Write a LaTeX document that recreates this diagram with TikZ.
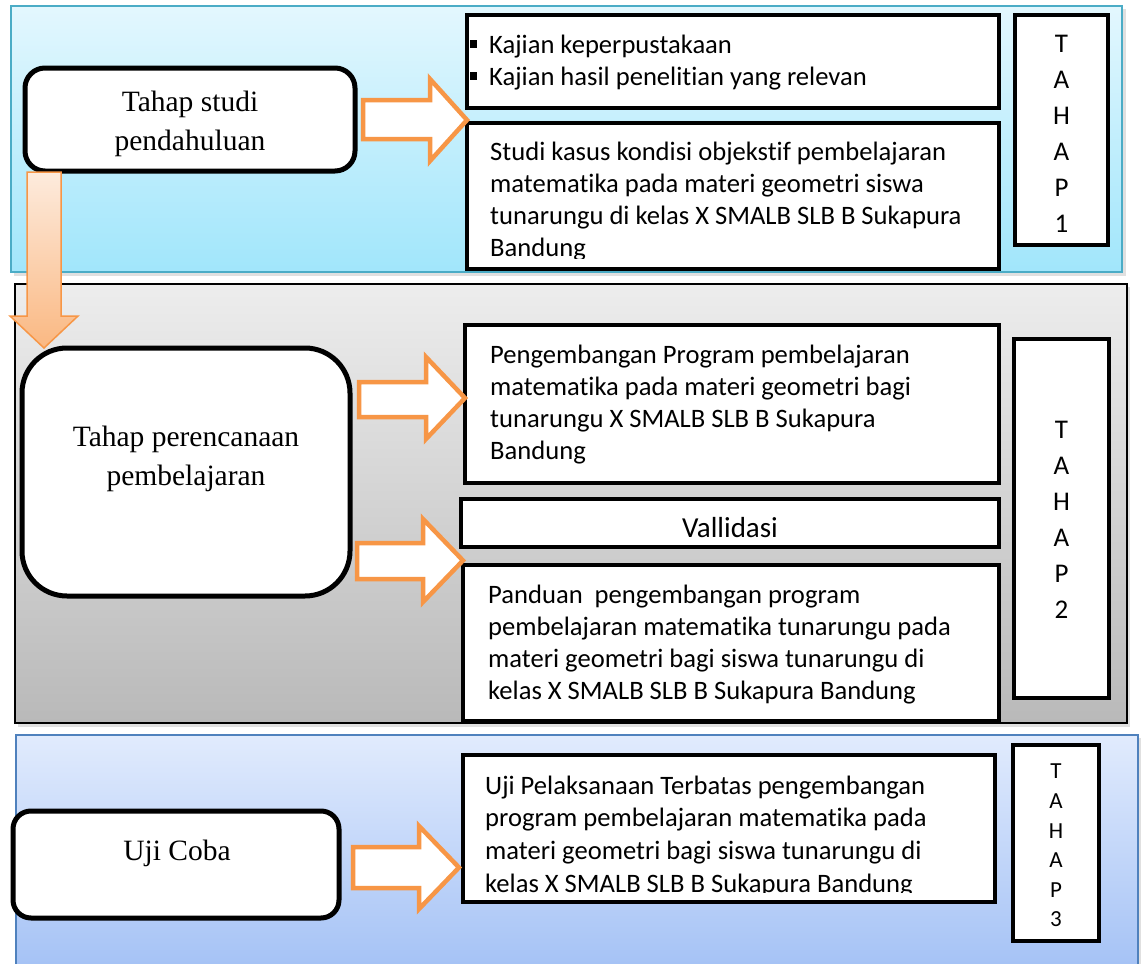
\documentclass[tikz,border=0pt]{standalone}
\usepackage{fontspec}
\setmainfont{Liberation Serif}
\newfontfamily\calf[Ligatures=NoCommon]{Carlito}
\definecolor{orA}{HTML}{F79646}
\definecolor{pchA}{HTML}{FDEBDD}
\definecolor{pchB}{HTML}{FAB882}
\definecolor{cyTop}{HTML}{E3F7FE}
\definecolor{cyBot}{HTML}{A1E6FB}
\definecolor{cyLine}{HTML}{4BACC6}
\definecolor{gyTop}{HTML}{EDEDED}
\definecolor{gyBot}{HTML}{B9B9B9}
\definecolor{blTop}{HTML}{E1EBFD}
\definecolor{blBot}{HTML}{A3C1F5}
\definecolor{blLine}{HTML}{4F81BD}
\newcommand\fl{\rule{0pt}{20pt}}
\newcommand\blt{\makebox[19pt][l]{\rule[5pt]{7pt}{8pt}}}
\newcommand\rarr[7]{\draw[hollow] (#1,#4) -- (#2,#4) -- (#2,#6) -- (#3,{(#6+#7)/2}) -- (#2,#7) -- (#2,#5) -- (#1,#5) -- cycle;}
\tikzset{
  blk/.style={draw=black, line width=4pt, fill=white, inner sep=0pt, outer sep=0pt, anchor=north west},
  rbox/.style={blk, line width=5pt, rounded corners=#1},
  body/.style={font=\calf\fontsize{26.6}{32}\selectfont, anchor=north west, inner sep=0pt, align=left},
  serif/.style={font=\fontsize{29.5}{39}\selectfont, align=center, inner sep=0pt},
  tahap/.style={font=\calf\fontsize{27}{36}\selectfont, align=center, inner sep=0pt},
  tahapS/.style={font=\calf\fontsize{23}{29.6}\selectfont, align=center, inner sep=0pt},
  hollow/.style={draw=orA, line width=4.5pt, fill=white, line join=miter},
  shd/.style={fill=black, opacity=0.12},
}
\begin{document}
\begin{tikzpicture}[x=1pt,y=-1pt]
\useasboundingbox (0,0) rectangle (1144,964);
\clip (0,0) rectangle (1144,964);
% panels
\fill[shd] (14,9) rectangle (1126,276);
\path[top color=cyTop, bottom color=cyBot, draw=cyLine, line width=2pt] (11,6) rectangle (1122,272);
\fill[shd] (18,287) rectangle (1130,727);
\path[top color=gyTop, bottom color=gyBot, draw=black, line width=1.5pt] (15,284) rectangle (1127,723);
\fill[shd] (19,738) rectangle (1141,970);
\path[top color=blTop, bottom color=blBot, draw=blLine, line width=2pt] (16,735) rectangle (1138,975);

% ---- stage 1
\node[rbox=20pt, minimum width=330pt, minimum height=103pt] (r1) at (25,68) {};
\node[serif] (r1t) at (190,124) {Tahap studi\\pendahuluan};
\node[blk, minimum width=532pt, minimum height=93pt] (bul) at (467,15) {};
\node[body] (bult) at (470,33) {\fl\blt Kajian keperpustakaan\\\blt Kajian hasil penelitian yang relevan};
\node[blk, minimum width=532pt, minimum height=146pt] (stu) at (467,123) {};
\begin{scope}
\clip (467,123) rectangle (999,258);
\node[body] (stut) at (490,140) {\fl Studi kasus kondisi objekstif pembelajaran\\matematika pada materi geometri siswa\\tunarungu di kelas X SMALB SLB B Sukapura\\Bandung};
\end{scope}
\node[blk, minimum width=93pt, minimum height=230pt] (t1) at (1015,15) {};
\node[tahap] (t1t) at (1061.5,134) {T\\A\\H\\A\\P\\1};
\rarr{363}{430}{467}{100}{139}{79}{161}

% ---- stage 2
\node[rbox=45pt, minimum width=328pt, minimum height=248pt] (r2) at (22,348) {};
\node[serif] (r2t) at (186,459) {Tahap perencanaan\\pembelajaran};
\node[blk, minimum width=534pt, minimum height=158pt] (peng) at (465,325) {};
\node[body] (pengt) at (490,343) {\fl Pengembangan Program pembelajaran\\matematika pada materi geometri bagi\\tunarungu X SMALB SLB B Sukapura\\Bandung};
\node[blk, minimum width=538pt, minimum height=48pt] (val) at (461,499) {};
\node[font=\calf\fontsize{29}{32}\selectfont, inner sep=0pt, anchor=base] (valt) at (730,537) {Vallidasi};
\node[blk, minimum width=536pt, minimum height=156pt] (pand) at (463,565) {};
\node[body] (pandt) at (488,583) {\fl Panduan\ \ pengembangan program\\pembelajaran matematika tunarungu pada\\materi geometri bagi siswa tunarungu di\\kelas X SMALB SLB B Sukapura Bandung};
\node[blk, minimum width=95pt, minimum height=359pt] (t2) at (1014,339) {};
\node[tahap] (t2t) at (1061.5,519.5) {T\\A\\H\\A\\P\\2};
\rarr{359}{426}{465}{382}{417}{357}{439}
\rarr{357}{423}{463}{543}{579}{519}{602}

% ---- stage 3
\node[rbox=18pt, minimum width=326pt, minimum height=107pt] (r3) at (13,811) {};
\node[serif] (r3t) at (177,853) {Uji Coba};
\node[blk, minimum width=532pt, minimum height=147pt] (uji) at (463,755) {};
\begin{scope}
\clip (463,755) rectangle (995,892);
\node[body, font=\calf\fontsize{26.6}{32.7}\selectfont] (ujit) at (485,774) {\fl Uji Pelaksanaan Terbatas pengembangan\\program pembelajaran matematika pada\\materi geometri bagi siswa tunarungu di\\kelas X SMALB SLB B Sukapura Bandung};
\end{scope}
\node[blk, minimum width=86pt, minimum height=196pt] (t3) at (1013,745) {};
\node[tahapS] (t3t) at (1056,845.5) {T\\A\\H\\A\\P\\3};
\rarr{353}{419}{459}{847}{888}{826}{909}

% ---- down arrow
\path[draw=orA, line width=1.5pt, top color=pchA, bottom color=pchB]
  (27,172) -- (61,172) -- (61,316) -- (78,316) -- (44,348) -- (10,316) -- (27,316) -- cycle;
\end{tikzpicture}
\end{document}
